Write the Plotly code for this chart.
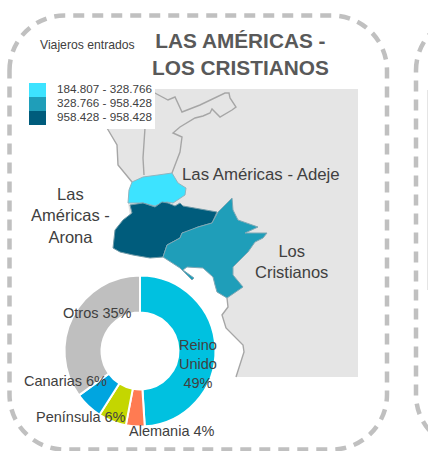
import plotly.graph_objects as go

# Donut data
pie_labels = ["Reino Unido", "Alemania", "Península", "Canarias", "Otros"]
pie_values = [49, 4, 6, 6, 35]
pie_colors = ["#00c1e0", "#ff7b52", "#c4d600", "#00a5e0", "#bfbfbf"]

# Legend
legend_labels = ["184.807 - 328.766", "328.766 - 958.428", "958.428 - 958.428"]
legend_colors = ["#3de3ff", "#1f9eb9", "#005c7c"]

# Map geometry
land_x = [107,107,358,358,236,244,243,226,222,228,227,217,213,203,187,163,150,132,128,129,132,118,117,107]
land_y = [129,89,89,377,377,352,345,328,315,307,298,292,277,268,267,257,258,230,203,190,182,165,145,129]

adeje_x = [132,143,158,172,178,186,185,175,173,167,162,155,143,128,129,132]
adeje_y = [182,177,175,173,183,188,195,201,203,202,203,206,203,203,190,182]

arona_x = [130,143,155,162,168,175,180,183,200,217,212,198,187,182,180,167,163,150,133,120,113,115,123,132,130]
arona_y = [205,203,207,202,203,206,203,206,209,212,223,227,232,233,238,245,257,258,255,252,248,230,220,213,205]

cristianos_x = [232,233,238,258,245,267,263,255,248,233,233,243,227,217,215,213,203,187,183,194,192,180,163,167,180,182,198,212,218,232]
cristianos_y = [198,210,220,227,233,233,238,242,252,267,275,287,298,292,285,277,268,267,270,278,280,268,257,245,238,233,227,223,212,198]

border_a_x = [153,168,175,182,200,225,229,230,236,232,220,212,210,203,195,180,173,182,180,172]
border_a_y = [92,100,97,112,105,93,93,98,107,110,117,109,113,116,118,127,133,137,152,173]
border_b_x = [145,143,144]
border_b_y = [128,158,175]
border_c_x = [107,117,118,132]
border_c_y = [128,145,165,182]
border_d_x = [227,228,222,226,243,244,236]
border_d_y = [298,307,315,328,345,352,377]

region_labels = ["Las Américas - Adeje", "Las<br>Américas -<br>Arona", "Los<br>Cristianos"]
title_lines = "LAS AMÉRICAS -<br>LOS CRISTIANOS"
legend_title = "Viajeros entrados"

W, H = 428, 451
TEXT = "#404040"
FONT = "Liberation Sans, Arial, sans-serif"

fig = go.Figure()


def poly(x, y, fill, line="rgba(0,0,0,0)", lw=0):
    fig.add_trace(go.Scatter(x=x, y=y, mode="lines", fill="toself", fillcolor=fill,
                             line=dict(color=line, width=lw), hoverinfo="skip", showlegend=False))


def line(x, y):
    fig.add_trace(go.Scatter(x=x, y=y, mode="lines", line=dict(color="#a6a6a6", width=1.4),
                             hoverinfo="skip", showlegend=False))


poly(land_x, land_y, "#e5e5e5")
line(border_a_x, border_a_y)
line(border_b_x, border_b_y)
line(border_c_x, border_c_y)
line(border_d_x, border_d_y)
poly(adeje_x, adeje_y, legend_colors[0], "#8fb5c0", 1)
poly(arona_x, arona_y, legend_colors[2], "#6f9aa8", 1)
poly(cristianos_x, cristianos_y, legend_colors[1], "#7fa8b5", 1)

fig.add_trace(go.Pie(labels=pie_labels, values=pie_values, hole=0.51, sort=False,
                     direction="clockwise", rotation=0, textinfo="none", hoverinfo="skip",
                     marker=dict(colors=pie_colors, line=dict(color="#ffffff", width=2)),
                     domain=dict(x=[64.5 / W, 215.5 / W], y=[1 - 426.5 / H, 1 - 275.5 / H]),
                     showlegend=False))

shapes = []


def card(x0, y0, x1, y1, r):
    k = r * 0.448
    return (f"M {x0},{y0 + r} C {x0},{y0 + k} {x0 + k},{y0} {x0 + r},{y0} L {x1 - r},{y0} "
            f"C {x1 - k},{y0} {x1},{y0 + k} {x1},{y0 + r} L {x1},{y1 - r} "
            f"C {x1},{y1 - k} {x1 - k},{y1} {x1 - r},{y1} L {x0 + r},{y1} "
            f"C {x0 + k},{y1} {x0},{y1 - k} {x0},{y1 - r} Z")


for x0, x1 in [(9.5, 387), (416, 800)]:
    shapes.append(dict(type="path", path=card(x0, 15.5, x1, 449.5, 55), xref="x", yref="y",
                       line=dict(color="#c0c0c0", width=4.5, dash="11px,8px"), layer="below"))
shapes.append(dict(type="rect", x0=427, x1=428, y0=90, y1=290, xref="x", yref="y",
                   fillcolor="#e5e5e5", line=dict(width=0), layer="below"))
# legend box
shapes.append(dict(type="rect", x0=28, x1=155, y0=80, y1=129, xref="x", yref="y",
                   fillcolor="#ffffff", line=dict(width=0), layer="above"))
for i, c in enumerate(legend_colors):
    shapes.append(dict(type="rect", x0=29, x1=46, y0=83 + 14 * i, y1=97 + 14 * i, xref="x", yref="y",
                       fillcolor=c, line=dict(width=0), layer="above"))

annotations = []


def note(text, x, y, size, color=TEXT, bold=False, xanchor="center"):
    annotations.append(dict(text=f"<b>{text}</b>" if bold else text, x=x, y=y, xref="x", yref="y",
                            showarrow=False, xanchor=xanchor, yanchor="middle", align="center",
                            font=dict(family=FONT, size=size, color=color)))


note(title_lines, 240, 53.5, 20.8, "#595959", bold=True)
note(legend_title, 87.5, 44.5, 12.2)
for i, t in enumerate(legend_labels):
    note(t, 104.5, 88.5 + 14 * i, 11.7)
note(region_labels[0], 260.5, 174, 16.8)
note(region_labels[1], 70, 215.5, 16.5)
note(region_labels[2], 291, 261.5, 16.5)

note(f"{pie_labels[4]} {pie_values[4]}%", 97, 313, 14.5)
note(f"Reino<br>Unido<br>{pie_values[0]}%", 198, 363.5, 14.5)
note(f"{pie_labels[3]} {pie_values[3]}%", 65, 380.5, 14.5)
note(f"{pie_labels[2]} {pie_values[2]}%", 80.5, 417, 14.5)
note(f"{pie_labels[1]} {pie_values[1]}%", 172, 431, 14.5)

fig.update_layout(width=W, height=H, margin=dict(l=0, r=0, t=0, b=0), autosize=False,
                  paper_bgcolor="#ffffff", plot_bgcolor="#ffffff", showlegend=False,
                  xaxis=dict(range=[0, W], visible=False, fixedrange=True),
                  yaxis=dict(range=[H, 0], visible=False, fixedrange=True),
                  shapes=shapes, annotations=annotations)

fig.write_html("out.html", config=dict(displayModeBar=False),
               post_script="document.body.style.margin='0';document.body.style.overflow='hidden';")
